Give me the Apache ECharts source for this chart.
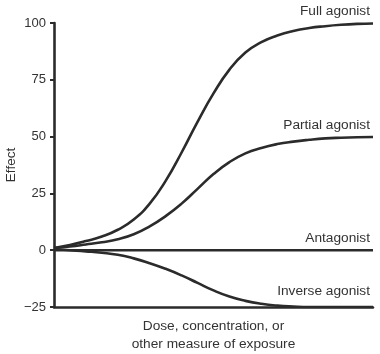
<!DOCTYPE html>
<html>
<head>
<meta charset="utf-8">
<script src="https://cdn.jsdelivr.net/npm/echarts@6/dist/echarts.min.js"></script>
<style>
  html, body { margin: 0; padding: 0; background: #fff; }
  #chart { width: 380px; height: 354px; }
</style>
</head>
<body>
<div id="chart"></div>
<script>
// dose positions (arbitrary units, the original has no tick labels on this axis)
var doses = [0, 5, 10, 15, 20, 25, 30, 35, 40, 45, 50, 55, 60, 65, 70, 75, 80, 85, 90, 95, 100];

var fullAgonist    = [1, 2.3, 4, 6, 9, 13.5, 20.5, 30.5, 43, 56.5, 69, 79.5, 87, 91.6, 94.5, 96.5, 97.8, 98.6, 99.2, 99.6, 99.8];
var partialAgonist = [1, 1.6, 2.5, 3.5, 4.8, 7, 10.5, 15, 20.5, 27, 33.5, 38.8, 42.6, 45, 46.7, 47.8, 48.6, 49.2, 49.5, 49.7, 49.8];
var antagonist     = [0, 0, 0, 0, 0, 0, 0, 0, 0, 0, 0, 0, 0, 0, 0, 0, 0, 0, 0, 0, 0];
var inverseAgonist = [0.5, 0, -0.5, -1.1, -2, -3.6, -5.7, -8.2, -11.1, -14.4, -17.7, -20.4, -22.3, -23.6, -24.4, -24.8, -25, -25, -25, -25, -25];

var seriesNames = ['Full agonist', 'Partial agonist', 'Antagonist', 'Inverse agonist'];
var seriesValues = [fullAgonist, partialAgonist, antagonist, inverseAgonist];
var labelLift = [-5, -5, -5, -9];

var ink = '#2b2b2b';
var font = 'Liberation Sans, Arial, sans-serif';

function pairs(values) {
  return doses.map(function (d, i) { return [d, values[i]]; });
}

var series = seriesValues.map(function (vals, i) {
  return {
    name: seriesNames[i],
    type: 'line',
    data: pairs(vals),
    smooth: 0.5,
    symbol: 'none',
    lineStyle: { color: ink, width: 2.6 },
    endLabel: {
      show: true,
      formatter: seriesNames[i],
      align: 'right',
      verticalAlign: 'bottom',
      distance: 0,
      offset: [-3, labelLift[i]],
      color: '#333',
      fontSize: 13.7,
      fontFamily: font
    },
    z: i === 3 ? 1 : 2
  };
});

var chart = echarts.init(document.getElementById('chart'));
chart.setOption({
  animation: false,
  grid: { left: 54, right: 7, top: 23, bottom: 47, outerBoundsMode: 'none', containLabel: false },
  xAxis: {
    type: 'value',
    min: 0,
    max: 100,
    name: 'Dose, concentration, or\nother measure of exposure',
    nameLocation: 'middle',
    nameGap: 10,
    nameMoveOverlap: false,
    nameTextStyle: {
      color: '#333',
      fontSize: 13.7,
      lineHeight: 18,
      verticalAlign: 'top',
      fontFamily: font
    },
    axisLine: { show: true, onZero: false, lineStyle: { color: ink, width: 2.6 } },
    axisTick: { show: false },
    axisLabel: { show: false },
    splitLine: { show: false }
  },
  yAxis: {
    type: 'value',
    min: -25,
    max: 100,
    interval: 25,
    name: 'Effect',
    nameLocation: 'middle',
    nameGap: 36,
    nameMoveOverlap: false,
    nameTextStyle: {
      color: '#333',
      fontSize: 13.5,
      fontFamily: font
    },
    axisLine: { show: true, lineStyle: { color: ink, width: 2.6 } },
    axisTick: { show: true, length: 4, lineStyle: { color: ink, width: 2 } },
    axisLabel: {
      color: '#333',
      fontSize: 13,
      margin: 8,
      fontFamily: font,
      formatter: function (v) { return String(v).replace('-', '\u2212'); }
    },
    splitLine: { show: false }
  },
  series: series
});
</script>
</body>
</html>
